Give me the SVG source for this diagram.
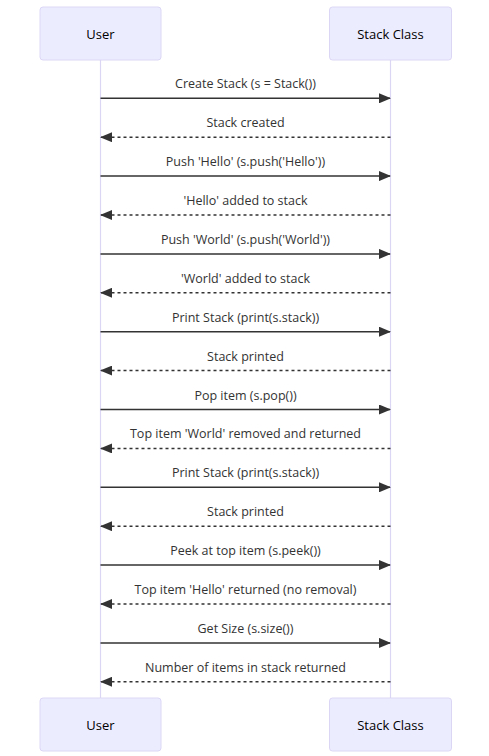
<svg xmlns="http://www.w3.org/2000/svg" width="489" height="756" viewBox="0 0 489 756">
<defs>
<style>
.actor{fill:#ECECFF;stroke:#DCD6F5;stroke-width:1}
.life{stroke:#DCD6F5;stroke-width:1.2}
.aname{font-family:"Open Sans","Liberation Sans",sans-serif;font-size:13px;fill:#000;text-anchor:middle;dominant-baseline:central}
.msg{stroke:#333;stroke-width:1.5;fill:none}
.dash{stroke-dasharray:3,3}
.lbl{font-family:"Open Sans","Liberation Sans",sans-serif;font-size:12.5px;fill:#333;text-anchor:middle}
</style>
<marker id="ah" viewBox="0 0 12 10" refX="11" refY="5" markerWidth="12" markerHeight="10" markerUnits="userSpaceOnUse" orient="auto-start-reverse">
<path d="M0,0 L12,5 L0,10 z" fill="#333"/>
</marker>
</defs>
<rect width="489" height="756" fill="#fff"/>
<g id="lifelines">
<line class="life" x1="100.5" y1="60" x2="100.5" y2="698"/>
<line class="life" x1="390.5" y1="60" x2="390.5" y2="698"/>
</g>
<g id="user-top"><rect class="actor" x="40" y="7" width="121" height="53" rx="3"/><text class="aname" x="100.5" y="33.5">User</text></g>
<g id="stack-top"><rect class="actor" x="329.5" y="7" width="122" height="53" rx="3"/><text class="aname" x="390.5" y="33.5">Stack Class</text></g>
<g id="user-bottom"><rect class="actor" x="40" y="698" width="121" height="53" rx="3"/><text class="aname" x="100.5" y="724.5">User</text></g>
<g id="stack-bottom"><rect class="actor" x="329.5" y="698" width="122" height="53" rx="3"/><text class="aname" x="390.5" y="724.5">Stack Class</text></g>
<g id="connectors">
<line class="msg" x1="100.5" y1="98.3" x2="390" y2="98.3" marker-end="url(#ah)"/>
<text class="lbl" x="245.5" y="88.3">Create Stack (s = Stack())</text>
<line class="msg dash" x1="390.5" y1="137.2" x2="101" y2="137.2" marker-end="url(#ah)"/>
<text class="lbl" x="245.5" y="127.2">Stack created</text>
<line class="msg" x1="100.5" y1="176.1" x2="390" y2="176.1" marker-end="url(#ah)"/>
<text class="lbl" x="245.5" y="166.1">Push 'Hello' (s.push('Hello'))</text>
<line class="msg dash" x1="390.5" y1="215" x2="101" y2="215" marker-end="url(#ah)"/>
<text class="lbl" x="245.5" y="205">'Hello' added to stack</text>
<line class="msg" x1="100.5" y1="253.9" x2="390" y2="253.9" marker-end="url(#ah)"/>
<text class="lbl" x="245.5" y="243.9">Push 'World' (s.push('World'))</text>
<line class="msg dash" x1="390.5" y1="292.8" x2="101" y2="292.8" marker-end="url(#ah)"/>
<text class="lbl" x="245.5" y="282.8">'World' added to stack</text>
<line class="msg" x1="100.5" y1="331.7" x2="390" y2="331.7" marker-end="url(#ah)"/>
<text class="lbl" x="245.5" y="321.7">Print Stack (print(s.stack))</text>
<line class="msg dash" x1="390.5" y1="370.6" x2="101" y2="370.6" marker-end="url(#ah)"/>
<text class="lbl" x="245.5" y="360.6">Stack printed</text>
<line class="msg" x1="100.5" y1="409.5" x2="390" y2="409.5" marker-end="url(#ah)"/>
<text class="lbl" x="245.5" y="399.5">Pop item (s.pop())</text>
<line class="msg dash" x1="390.5" y1="448.4" x2="101" y2="448.4" marker-end="url(#ah)"/>
<text class="lbl" x="245.5" y="438.4">Top item 'World' removed and returned</text>
<line class="msg" x1="100.5" y1="487.3" x2="390" y2="487.3" marker-end="url(#ah)"/>
<text class="lbl" x="245.5" y="477.3">Print Stack (print(s.stack))</text>
<line class="msg dash" x1="390.5" y1="526.2" x2="101" y2="526.2" marker-end="url(#ah)"/>
<text class="lbl" x="245.5" y="516.2">Stack printed</text>
<line class="msg" x1="100.5" y1="565.1" x2="390" y2="565.1" marker-end="url(#ah)"/>
<text class="lbl" x="245.5" y="555.1">Peek at top item (s.peek())</text>
<line class="msg dash" x1="390.5" y1="604" x2="101" y2="604" marker-end="url(#ah)"/>
<text class="lbl" x="245.5" y="594">Top item 'Hello' returned (no removal)</text>
<line class="msg" x1="100.5" y1="642.9" x2="390" y2="642.9" marker-end="url(#ah)"/>
<text class="lbl" x="245.5" y="632.9">Get Size (s.size())</text>
<line class="msg dash" x1="390.5" y1="681.8" x2="101" y2="681.8" marker-end="url(#ah)"/>
<text class="lbl" x="245.5" y="671.8">Number of items in stack returned</text>
</g>
</svg>
